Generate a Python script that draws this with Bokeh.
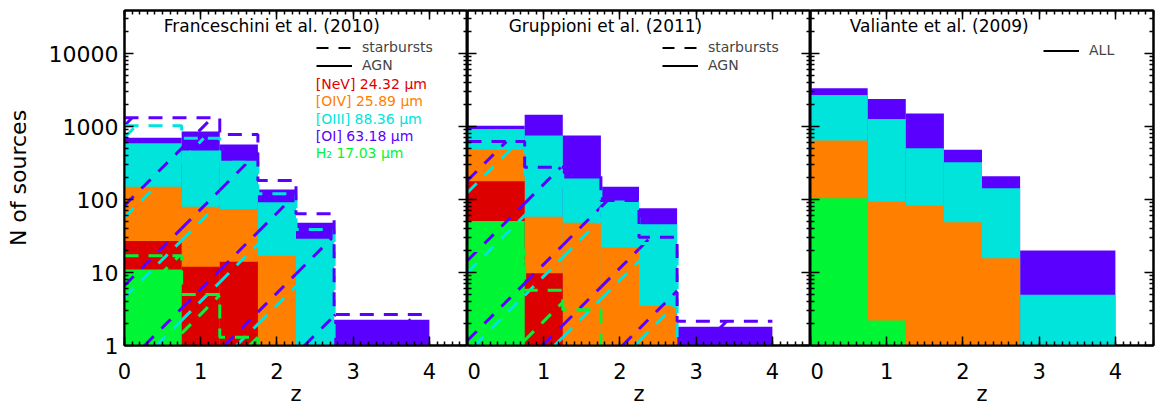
import numpy as np
from bokeh.plotting import figure
from bokeh.models import (Range1d, FixedTicker, LinearAxis, LogAxis, Label,
                          Legend, LegendItem, PrintfTickFormatter)
from bokeh.layouts import row
from bokeh.embed import file_html
from bokeh.resources import INLINE

# ---------------- data ----------------
edges = [0.0, 0.75, 1.25, 1.75, 2.25, 2.75, 4.0]

# Franceschini et al. (2010) - AGN (filled)
fr_oi = [706, 855, 567, 137, 48, 2.25]
fr_oiii = [590, 470, 340, 92, 29, 0]
fr_oiv = [150, 80, 74, 17, 0, 0]
fr_nev = [27, 12, 14, 0, 0, 0]
fr_h2 = [11, 0, 0, 0, 0, 0]
# Franceschini et al. (2010) - starbursts (dashed, hatched)
fr_sb_oi = [1320, 1320, 780, 182, 64, 2.66]
fr_sb_oiii = [1030, 690, 324, 120, 39, 0]
fr_sb_h2 = [17, 5.0, 1.3, 0, 0, 0]

# Gruppioni et al. (2011) - AGN
gr_oi = [1030, 1450, 753, 150, 76, 1.8]
gr_oiii = [930, 753, 194, 97, 46, 0]
gr_oiv = [484, 58, 48, 22, 3.5, 0]
gr_nev = [178, 9.8, 0, 0, 0, 0]
gr_h2 = [51, 0, 0, 0, 0, 0]
# Gruppioni et al. (2011) - starbursts
gr_sb_oi = [623, 277, 277, 97, 30.5, 2.15]
gr_sb_oiii = [500, 220, 150, 70, 25, 0]
gr_sb_h2 = [20, 5.7, 3.1, 0, 0, 0]

# Valiante et al. (2009) - ALL
va_oi = [3350, 2395, 1515, 480, 208, 20]
va_oiii = [2720, 1275, 505, 324, 143, 4.95]
va_oiv = [643, 94, 83, 49, 15.7, 0]
va_h2 = [104, 2.2, 0, 0, 0, 0]

x_ticks = [0, 1, 2, 3, 4]
y_ticks = [1, 10, 100, 1000, 10000]

titles = ["Franceschini et al. (2010)", "Gruppioni et al. (2011)", "Valiante et al. (2009)"]
line_labels = ["[NeV] 24.32 \u03bcm", "[OIV] 25.89 \u03bcm", "[OIII] 88.36 \u03bcm",
               "[OI] 63.18 \u03bcm", "H\u2082 17.03 \u03bcm"]

C_OI = "#5a00ff"
C_OIII = "#00e4dc"
C_OIV = "#ff8000"
C_NEV = "#dd0000"
C_H2 = "#00f535"
label_colors = [C_NEV, C_OIV, C_OIII, C_OI, C_H2]

FONT = "DejaVu Sans"
FLOOR = 0.5
DASH = "14 10"
HATCH_DASH = "13 11"

# frame geometry (pixels) used to make the hatch lines run at 45 degrees
FRAME_W, FRAME_H = 343, 335
X_MAX, Y_MIN, Y_MAX = 4.5, 1.0, 39000.0
PX_PER_X = FRAME_W / X_MAX
PX_PER_DEC = FRAME_H / (np.log10(Y_MAX) - np.log10(Y_MIN))
K = PX_PER_X / PX_PER_DEC          # decades per x-unit along a 45 deg line
HATCH_SPACING_PX = 80.0


def clip(v):
    a = np.asarray(v, dtype=float)
    return np.where(a > 0, a, FLOOR)


def step_xy(v):
    xs = np.repeat(np.asarray(edges), 2)[1:-1]
    ys = np.repeat(clip(v), 2)
    return xs, ys


def hatch_segments(vals, offset_px):
    """45-degree hatch lines clipped to each histogram column (from y=1 to top)."""
    x0s, y0s, x1s, y1s = [], [], [], []
    cs = (offset_px + HATCH_SPACING_PX * np.arange(-6, 8)) / PX_PER_X
    for xl, xr, v in zip(edges[:-1], edges[1:], vals):
        if v <= 0:
            continue
        t = np.log10(v)
        for c in cs:
            a = max(xl, c)
            b = min(xr, c + t / K)
            if b - a > 1e-6:
                x0s.append(a); y0s.append(10 ** (K * (a - c)))
                x1s.append(b); y1s.append(10 ** (K * (b - c)))
    return x0s, y0s, x1s, y1s


def style_axis(ax, show_labels):
    ax.axis_line_color = "black"
    ax.axis_line_width = 2
    ax.major_tick_line_color = "black"
    ax.minor_tick_line_color = "black"
    ax.major_tick_line_width = 1.5
    ax.minor_tick_line_width = 1.5
    ax.major_tick_in = 9
    ax.major_tick_out = 0
    ax.minor_tick_in = 4
    ax.minor_tick_out = 0
    ax.major_label_text_font = FONT
    ax.major_label_text_color = "black"
    ax.axis_label_text_font = FONT
    ax.axis_label_text_font_style = "normal"
    ax.axis_label_text_color = "black"
    if not show_labels:
        ax.major_label_text_font_size = "0.1px"
        ax.major_label_text_alpha = 0
        ax.major_label_standoff = 0


def make_panel(idx):
    first = idx == 0
    last = idx == 2
    p = figure(frame_width=FRAME_W, frame_height=FRAME_H,
               x_range=Range1d(0, X_MAX), y_range=Range1d(Y_MIN, Y_MAX),
               y_axis_type="log", output_backend="svg", toolbar_location=None,
               min_border_top=10, min_border_bottom=66,
               min_border_left=124 if first else 0,
               min_border_right=2 if last else 0)
    p.background_fill_color = "white"
    p.border_fill_color = "white"
    p.outline_line_color = "black"
    p.outline_line_width = 2
    p.xgrid.visible = False
    p.ygrid.visible = False

    xt = FixedTicker(ticks=x_ticks, minor_ticks=[i / 10 for i in range(46)])
    yt = FixedTicker(ticks=y_ticks,
                     minor_ticks=[m * 10 ** d for d in range(5) for m in range(2, 10)])

    xa = p.xaxis[0]
    xa.ticker = xt
    style_axis(xa, True)
    xa.major_label_text_font_size = "21px"
    xa.major_label_standoff = 17
    xa.axis_label = "z"
    xa.axis_label_text_font_size = "21px"
    xa.axis_label_standoff = 0

    ya = p.yaxis[0]
    ya.ticker = yt
    ya.formatter = PrintfTickFormatter(format="%d")
    style_axis(ya, first)
    if first:
        ya.major_label_text_font_size = "22px"
        ya.major_label_standoff = 6
        ya.axis_label = "N of sources"
        ya.axis_label_text_font_size = "22px"
        ya.axis_label_standoff = 15

    top = LinearAxis(ticker=xt)
    style_axis(top, False)
    p.add_layout(top, "above")
    right = LogAxis(ticker=yt)
    style_axis(right, False)
    p.add_layout(right, "right")
    return p


def fills(p, series):
    left = edges[:-1]
    right = edges[1:]
    for vals, col in series:
        p.quad(left=left, right=right, bottom=FLOOR, top=clip(vals),
               fill_color=col, line_color=None)


def starbursts(p, series, offsets):
    for (vals, col), off in zip(series, offsets):
        x0, y0, x1, y1 = hatch_segments(vals, off)
        p.segment(x0=x0, y0=y0, x1=x1, y1=y1, line_color=col, line_width=3,
                  line_dash=HATCH_DASH)
    for vals, col in series:
        xs, ys = step_xy(vals)
        p.line(xs, ys, line_color=col, line_width=3, line_dash=DASH)


def title(p, x, txt):
    p.add_layout(Label(x=x, y=24200, text=txt, text_font=FONT,
                       text_font_size="17px", text_color="black",
                       text_baseline="middle"))


def legend(p, items, loc):
    leg = Legend(items=items, location=loc, border_line_color=None,
                 background_fill_alpha=0, label_text_font=FONT,
                 label_text_font_size="14px", glyph_width=36, glyph_height=15,
                 label_height=15, spacing=2, padding=0, margin=0,
                 label_standoff=10)
    p.add_layout(leg)


# -------- panel 1 --------
p1 = make_panel(0)
fills(p1, [(fr_oi, C_OI), (fr_oiii, C_OIII), (fr_oiv, C_OIV), (fr_nev, C_NEV), (fr_h2, C_H2)])
starbursts(p1, [(fr_sb_h2, C_H2), (fr_sb_oiii, C_OIII), (fr_sb_oi, C_OI)], [45, 32, 20])
title(p1, 0.515, titles[0])
r_sb = p1.line(x=[0], y=[FLOOR], line_color="black", line_width=2, line_dash="12 10")
r_agn = p1.line(x=[0], y=[FLOOR], line_color="black", line_width=2)
legend(p1, [LegendItem(label="starbursts", renderers=[r_sb]),
            LegendItem(label="AGN", renderers=[r_agn])], (192, 272))
label_y = [3880, 2220, 1290, 753, 432]
for txt, col, yy in zip(line_labels, label_colors, label_y):
    p1.add_layout(Label(x=2.51, y=yy, text=txt, text_font=FONT,
                        text_font_size="14px", text_color=col,
                        text_baseline="middle"))

# -------- panel 2 --------
p2 = make_panel(1)
fills(p2, [(gr_oi, C_OI), (gr_oiii, C_OIII), (gr_oiv, C_OIV), (gr_nev, C_NEV), (gr_h2, C_H2)])
starbursts(p2, [(gr_sb_h2, C_H2), (gr_sb_oiii, C_OIII), (gr_sb_oi, C_OI)], [52, 7, -5])
title(p2, 0.54, titles[1])
r_sb2 = p2.line(x=[0], y=[FLOOR], line_color="black", line_width=2, line_dash="12 10")
r_agn2 = p2.line(x=[0], y=[FLOOR], line_color="black", line_width=2)
legend(p2, [LegendItem(label="starbursts", renderers=[r_sb2]),
            LegendItem(label="AGN", renderers=[r_agn2])], (195, 272))

# -------- panel 3 --------
p3 = make_panel(2)
fills(p3, [(va_oi, C_OI), (va_oiii, C_OIII), (va_oiv, C_OIV), (va_h2, C_H2)])
title(p3, 0.515, titles[2])
r_all = p3.line(x=[0], y=[FLOOR], line_color="black", line_width=2)
legend(p3, [LegendItem(label="ALL", renderers=[r_all])], (233, 287))

layout = row(p1, p2, p3)
open("out.html", "w").write(file_html(layout, INLINE))
